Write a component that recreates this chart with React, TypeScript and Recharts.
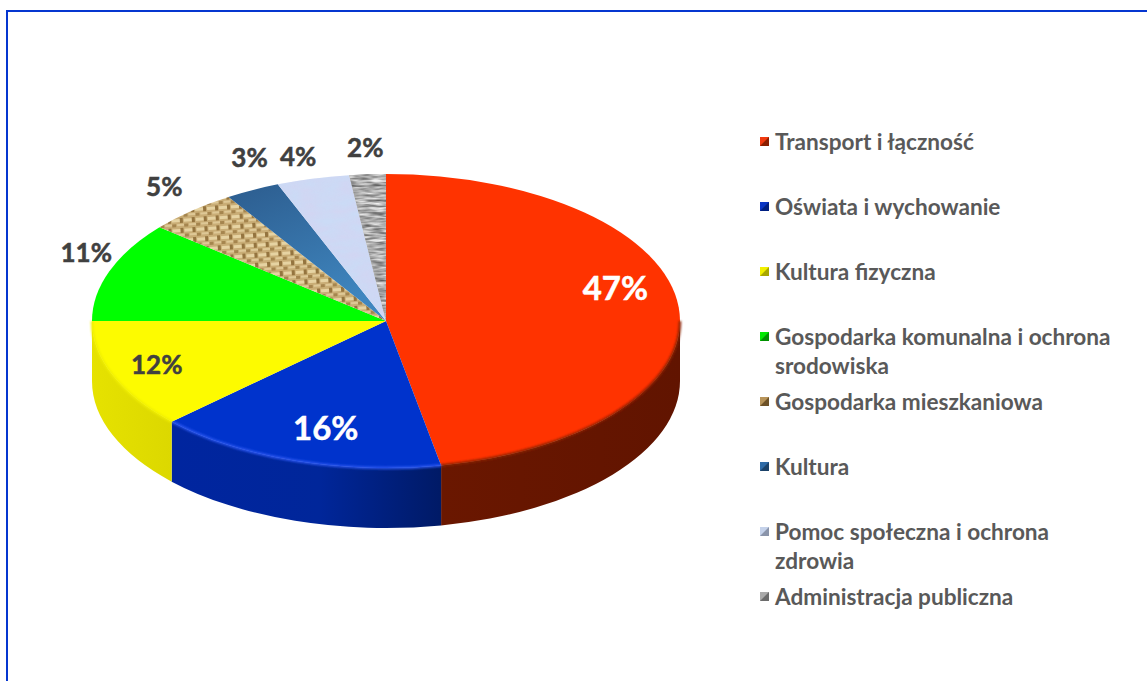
import React from 'react'
import { PieChart, Pie, Legend } from 'recharts'

const categories = [
  'Transport i łączność',
  'Oświata i wychowanie',
  'Kultura fizyczna',
  'Gospodarka komunalna i ochrona srodowiska',
  'Gospodarka mieszkaniowa',
  'Kultura',
  'Pomoc społeczna i ochrona zdrowia',
  'Administracja publiczna',
]
const shares = [47, 16, 12, 11, 5, 3, 4, 2]
const fills = [
  '#ff3300',
  '#0033cc',
  '#fdfb00',
  '#00ff00',
  'url(#burlap)',
  'url(#steel)',
  '#cbdbf6',
  '#b4b4b4',
]
const swatches = ['#f03a10', '#0a35c4', '#f2f000', '#00e800', '#b8945a', '#2f6ba6', '#c5d2ea', '#aaaaaa']
const swatchShades = ['#8a1e00', '#001f80', '#a8a600', '#009000', '#6e5228', '#1c4268', '#8a94aa', '#6c6c6c']
const walls = ['url(#wallRed)', 'url(#wallBlue)', 'url(#wallYellow)', 'none', 'none', 'none', 'none', 'none']
const rims = ['#8a2000', '#2c56f0', '#f0ee00', null, null, null, null, null]
const textures = [null, null, null, null, null, null, 'url(#mottle)', 'url(#granite)']

// label placement: reach along the ellipse, then a small nudge
const labelReach = [0.78, 0.62, 0.78, 1.08, 1.12, 1.12, 1.12, 1.12]
const labelNudge = [
  [1, -23],
  [-4, 19],
  [-16, 1],
  [-1, -15],
  [-4, -12],
  [13, -17],
  [-6, -6],
  [0, -10],
]
const labelColors = ['#ffffff', '#ffffff', '#404040', '#404040', '#404040', '#404040', '#404040', '#404040']
const labelSizes = [33, 33, 26, 26, 26, 26, 26, 26]

const TILT = 147 / 294
const DEPTH = 60
const FONT = 'Lato, sans-serif'

const data = categories.map((name, i) => ({ name, value: shares[i], fill: fills[i], idx: i }))

const rad = (deg: number) => (deg * Math.PI) / 180

function EllipseSlice(props: any) {
  const { cx, cy, outerRadius: rx, startAngle, endAngle, fill, payload } = props
  const i = payload.idx
  const ry = rx * TILT
  const pt = (deg: number, r = 1) => [cx + rx * r * Math.cos(rad(deg)), cy - ry * r * Math.sin(rad(deg))]
  const [sx, sy] = pt(startAngle)
  const [ex, ey] = pt(endAngle)
  const large = Math.abs(endAngle - startAngle) > 180 ? 1 : 0
  const top = `M${cx},${cy} L${sx},${sy} A${rx},${ry} 0 ${large} 1 ${ex},${ey} Z`

  // only the front half of the disc shows a wall
  const from = Math.min(startAngle, 0)
  const to = Math.max(endAngle, -180)
  let wall = null
  let rim = null
  if (from > to && walls[i] !== 'none') {
    const [ax, ay] = pt(from)
    const [bx, by] = pt(to)
    wall = (
      <path
        d={`M${ax},${ay} A${rx},${ry} 0 0 1 ${bx},${by} L${bx},${by + DEPTH} A${rx},${ry} 0 0 0 ${ax},${ay + DEPTH} Z`}
        fill={walls[i]}
      />
    )
    if (rims[i]) {
      rim = (
        <path
          d={`M${ax},${ay} A${rx},${ry} 0 0 1 ${bx},${by}`}
          fill="none"
          stroke={rims[i] as string}
          strokeWidth={2.5}
          filter="url(#soft)"
        />
      )
    }
  }
  return (
    <g>
      {wall}
      <path d={top} fill={fill} />
      {textures[i] && <path d={top} fill="#888" filter={textures[i] as string} />}
      {rim}
    </g>
  )
}

function sliceLabel(props: any) {
  const { cx, cy, outerRadius: rx, midAngle, index, value } = props
  const ry = rx * TILT
  const reach = labelReach[index]
  const [dx, dy] = labelNudge[index]
  return (
    <text
      x={cx + rx * reach * Math.cos(rad(midAngle)) + dx}
      y={cy - ry * reach * Math.sin(rad(midAngle)) + dy}
      textAnchor="middle"
      dominantBaseline="central"
      fontFamily={FONT}
      fontWeight={700}
      fontSize={labelSizes[index]}
      fill={labelColors[index]}
      stroke={labelColors[index]}
      strokeWidth={0.5}
    >
      {value}%
    </text>
  )
}

function LegendList() {
  return (
    <div style={{ fontFamily: FONT, fontWeight: 700, fontSize: 22.6, lineHeight: '29px', color: '#595959' }}>
      {categories.map((name, i) => (
        <div key={name} style={{ height: 65, display: 'flex' }}>
          <svg width={15} height={29} style={{ flex: 'none' }}>
            <rect x={0} y={10} width={9} height={9} fill={swatches[i]} />
            <polygon points="9,10 9,19 0,19" fill={swatchShades[i]} />
          </svg>
          <span style={{ width: 345 }}>{name}</span>
        </div>
      ))}
    </div>
  )
}

export default function App() {
  return (
    <div style={{ position: 'absolute', left: 0, top: 0, width: 1147, height: 681, background: '#fff', overflow: 'hidden' }}>
      <div
        style={{
          position: 'absolute',
          left: 6,
          top: 10,
          right: -4,
          bottom: -4,
          borderLeft: '2px solid #0536d0',
          borderTop: '2px solid #0536d0',
        }}
      />
      <PieChart
        width={1147}
        height={681}
        margin={{ top: 0, right: 0, bottom: 0, left: 0 }}
        style={{ position: 'absolute', left: 0, top: 0 }}
      >
        <defs>
          <linearGradient id="wallRed" x1="0" y1="0" x2="1" y2="0">
            <stop offset="0%" stopColor="#6a1700" />
            <stop offset="100%" stopColor="#611400" />
          </linearGradient>
          <linearGradient id="wallBlue" x1="0" y1="0" x2="1" y2="0">
            <stop offset="0%" stopColor="#00259f" />
            <stop offset="55%" stopColor="#00269a" />
            <stop offset="100%" stopColor="#001a66" />
          </linearGradient>
          <linearGradient id="wallYellow" x1="0" y1="0" x2="1" y2="0">
            <stop offset="0%" stopColor="#e6e200" />
            <stop offset="100%" stopColor="#dcd800" />
          </linearGradient>
          <linearGradient id="steel" x1="0" y1="0" x2="0.5" y2="1">
            <stop offset="0%" stopColor="#2c5c8e" />
            <stop offset="100%" stopColor="#3f86bf" />
          </linearGradient>
          <pattern id="burlap" width="12" height="10" patternUnits="userSpaceOnUse" patternTransform="rotate(-4)">
            <rect width="12" height="10" fill="#c9ad76" />
            <rect x="0" y="1" width="8" height="3" fill="#e6d3a2" />
            <rect x="8" y="0" width="3" height="5" fill="#94743f" />
            <rect x="0" y="6" width="4" height="3" fill="#a5854e" />
            <rect x="5" y="6" width="7" height="2" fill="#dec896" />
          </pattern>
          <filter id="soft" x="-5%" y="-5%" width="110%" height="110%">
            <feGaussianBlur stdDeviation="1" />
          </filter>
          <filter id="mottle" x="0" y="0" width="100%" height="100%" colorInterpolationFilters="sRGB">
            <feTurbulence type="fractalNoise" baseFrequency="0.05 0.12" numOctaves="2" seed="4" />
            <feColorMatrix
              type="matrix"
              values="0 0 0 0 0.84  0 0 0 0 0.82  0 0 0 0 0.94  0.9 0 0 0 -0.2"
            />
            <feComposite in2="SourceAlpha" operator="in" />
          </filter>
          <filter id="granite" x="0" y="0" width="100%" height="100%" colorInterpolationFilters="sRGB">
            <feTurbulence type="fractalNoise" baseFrequency="0.07 0.4" numOctaves="2" seed="7" />
            <feColorMatrix
              type="matrix"
              values="0.9 0 0 0 0.22  0.9 0 0 0 0.22  0.9 0 0 0 0.22  0 0 0 0 1"
            />
            <feComposite in2="SourceAlpha" operator="in" />
          </filter>
        </defs>
        <Pie
          data={data}
          dataKey="value"
          nameKey="name"
          cx={386}
          cy={321}
          innerRadius={0}
          outerRadius={294}
          startAngle={90}
          endAngle={-270}
          stroke="none"
          shape={EllipseSlice}
          label={sliceLabel}
          labelLine={false}
          isAnimationActive={false}
        />
        <Legend
          layout="vertical"
          align="right"
          verticalAlign="top"
          content={<LegendList />}
          wrapperStyle={{ position: 'absolute', left: 760, top: 127, width: 370 }}
        />
      </PieChart>
    </div>
  )
}
